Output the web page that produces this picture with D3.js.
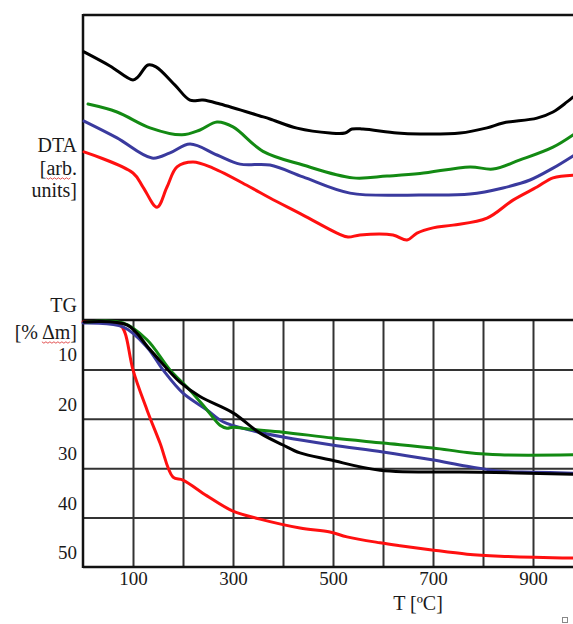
<!DOCTYPE html>
<html>
<head>
<meta charset="utf-8">
<style>
  body { margin: 0; background: #fff; }
  svg { display: block; }
  text { font-family: "Liberation Serif", "Times New Roman", serif; fill: #1a1a1a; }
</style>
</head>
<body>
<svg id="chart" width="573" height="624"></svg>
<script src="https://cdn.jsdelivr.net/npm/d3@7/dist/d3.min.js"></script>
<script>
// ---- data: [temperature degC, value] ----
// DTA in arbitrary units (0..100 over the upper panel)
var dtaBlack = [[2,87.9],[54,83.3],[100,78.7],[110,79.7],[130,83.6],[146,83.0],[184,77.0],[214,72.1],[240,72.1],[274,70.8],[354,66.9],[374,65.9],[428,62.9],[494,61.3],[524,61.3],[538,62.6],[560,62.6],[628,61.3],[674,61.0],[754,61.3],[808,63.0],[840,64.6],[908,66.2],[940,68.2],[968,71.5],[980,73.1]];
var dtaGreen = [[10,70.8],[68,68.2],[134,63.0],[198,60.7],[234,62.3],[268,64.9],[300,63.3],[360,55.3],[440,50.8],[540,46.6],[608,47.2],[674,48.0],[774,50.2],[820,49.5],[874,52.5],[940,56.7],[980,60.7]];
var dtaBlue  = [[2,65.2],[68,59.7],[138,53.1],[174,54.8],[214,57.7],[268,54.1],[314,51.1],[374,50.8],[440,46.9],[534,41.6],[674,41.0],[774,41.3],[840,43.3],[894,45.9],[940,49.8],[980,53.8]];
var dtaRed   = [[2,55.1],[100,48.2],[120,43.6],[148,37.0],[168,43.6],[188,50.2],[220,51.8],[260,49.8],[334,43.6],[374,40.0],[440,34.4],[508,28.5],[530,27.2],[554,27.9],[620,27.9],[648,26.2],[668,28.5],[700,30.2],[740,31.1],[808,33.4],[860,39.3],[908,43.6],[940,46.6],[980,47.5]];

// TG mass loss in %
var tgBlack = [[2,0.4],[88,1.0],[134,6.0],[194,12.6],[234,15.5],[300,18.8],[354,22.9],[400,25.3],[434,26.9],[494,28.3],[594,30.4],[794,30.8],[980,31.2]];
var tgGreen = [[8,0.4],[80,0.6],[128,4.0],[174,10.1],[214,14.2],[248,18.2],[274,21.3],[288,21.9],[300,21.7],[334,22.1],[400,22.7],[500,23.9],[600,24.9],[700,25.9],[768,26.8],[834,27.3],[980,27.3]];
var tgBlue  = [[0,0.6],[80,1.4],[128,5.5],[160,10.1],[200,14.8],[248,18.2],[280,20.6],[334,22.3],[400,23.7],[498,25.3],[600,26.7],[698,28.3],[768,29.6],[834,30.6],[900,30.8],[980,31.0]];
var tgRed   = [[0,0.4],[74,1.0],[84,2.6],[100,10.1],[128,18.2],[154,24.9],[180,31.8],[200,32.4],[248,35.6],[300,38.7],[354,40.3],[434,42.1],[494,42.9],[528,43.9],[594,45.1],[634,45.7],[694,46.5],[768,47.4],[834,47.8],[980,48.2]];

var xTicks = [100, 300, 500, 700, 900];
var xGrid = [100, 200, 300, 400, 500, 600, 700, 800, 900];
var yTicks = [10, 20, 30, 40, 50];

var colors = { black: "#000000", green: "#138a13", blue: "#3a3a9e", red: "#ff1010" };

// ---- layout ----
var svg = d3.select("#chart");
var mLeft = 83, mRight = 573, mTop = 15, mMid = 320, mBottom = 567;

var x = d3.scaleLinear().domain([0, 980]).range([mLeft, mRight]);
var yDta = d3.scaleLinear().domain([0, 100]).range([mMid, mTop]);
var yTg = d3.scaleLinear().domain([0, 50]).range([mMid, mBottom]);

// grid in TG panel
svg.append("g")
  .attr("transform", "translate(0," + mBottom + ")")
  .call(d3.axisBottom(x).tickValues(xGrid).tickSize(-(mBottom - mMid)).tickFormat(""))
  .call(function (g) {
    g.select(".domain").remove();
    g.selectAll(".tick line").attr("stroke", "#333").attr("stroke-width", 2);
  });
svg.append("g")
  .attr("transform", "translate(" + mLeft + ",0)")
  .call(d3.axisRight(yTg).tickValues(yTicks.slice(0, 4)).tickSize(mRight - mLeft).tickFormat(""))
  .call(function (g) {
    g.select(".domain").remove();
    g.selectAll(".tick line").attr("stroke", "#333").attr("stroke-width", 2);
  });

// frame lines
var frame = svg.append("g").attr("stroke", "#111").attr("stroke-width", 2.5).attr("fill", "none");
frame.append("line").attr("x1", mLeft).attr("x2", mRight).attr("y1", mTop).attr("y2", mTop);
frame.append("line").attr("x1", mLeft).attr("x2", mRight).attr("y1", mMid).attr("y2", mMid);
frame.append("line").attr("x1", mLeft).attr("x2", mRight).attr("y1", mBottom).attr("y2", mBottom);
frame.append("line").attr("x1", mLeft).attr("x2", mLeft).attr("y1", mTop - 1).attr("y2", mBottom + 1);

// curves
function drawSeries(data, color, yScale, w) {
  var line = d3.line()
    .x(function (d) { return x(d[0]); })
    .y(function (d) { return yScale(d[1]); })
    .curve(d3.curveCatmullRom.alpha(0.5));
  svg.append("path")
    .datum(data)
    .attr("d", line)
    .attr("fill", "none")
    .attr("stroke", color)
    .attr("stroke-width", w)
    .attr("stroke-linejoin", "round")
    .attr("stroke-linecap", "round");
}

drawSeries(dtaRed, colors.red, yDta, 3);
drawSeries(dtaBlue, colors.blue, yDta, 3);
drawSeries(dtaGreen, colors.green, yDta, 3);
drawSeries(dtaBlack, colors.black, yDta, 3);

drawSeries(tgRed, colors.red, yTg, 3);
drawSeries(tgBlue, colors.blue, yTg, 3);
drawSeries(tgGreen, colors.green, yTg, 3);
drawSeries(tgBlack, colors.black, yTg, 3);

// x tick labels
svg.append("g")
  .attr("transform", "translate(0," + mBottom + ")")
  .call(d3.axisBottom(x).tickValues(xTicks).tickSize(0).tickPadding(0))
  .call(function (g) {
    g.select(".domain").remove();
    g.selectAll("text").attr("dy", null).attr("y", 18)
      .style("font-family", "'Liberation Serif', serif").style("font-size", "19px").attr("fill", "#1a1a1a");
  });

// y tick labels (sit just above their grid lines)
svg.append("g")
  .selectAll("text")
  .data(yTicks)
  .join("text")
  .attr("x", 77)
  .attr("y", function (d) { return yTg(d) - 8; })
  .attr("text-anchor", "end")
  .style("font-size", "19px")
  .text(function (d) { return d; });

// axis titles
var t = svg.append("g").attr("text-anchor", "end").style("font-size", "20px");
t.append("text").attr("x", 77).attr("y", 152).text("DTA");
var arb = t.append("text").attr("x", 77).attr("y", 175);
arb.append("tspan").text("[");
var arbWord = arb.append("tspan").text("arb");
arb.append("tspan").text(".");
t.append("text").attr("x", 77).attr("y", 197).text("units]");
t.append("text").attr("x", 77).attr("y", 312).text("TG");
var dm = t.append("text").attr("x", 77).attr("y", 339);
dm.append("tspan").text("[% ");
var dmWord = dm.append("tspan").text("\u0394m");
dm.append("tspan").text("]");

// red wavy spell-check underline under a word
function squiggle(tspan, baseY) {
  var b = tspan.node().getBBox();
  var pts = [];
  for (var i = 0, px = b.x; px <= b.x + b.width; px += 2, i++) {
    pts.push([px, baseY + 3 + (i % 2 ? 1.2 : -0.2)]);
  }
  svg.append("path")
    .attr("d", d3.line()(pts))
    .attr("fill", "none")
    .attr("stroke", "#e04040")
    .attr("stroke-width", 0.9);
}
squiggle(arbWord, 175);
squiggle(dmWord, 339);

svg.append("text")
  .attr("x", 418).attr("y", 610)
  .attr("text-anchor", "middle")
  .style("font-size", "20px")
  .text("T [\u00baC]");

// small marker in corner
svg.append("rect")
  .attr("x", 562.5).attr("y", 617.5).attr("width", 5).attr("height", 5)
  .attr("fill", "#fff").attr("stroke", "#888").attr("stroke-width", 1);
</script>
</body>
</html>
